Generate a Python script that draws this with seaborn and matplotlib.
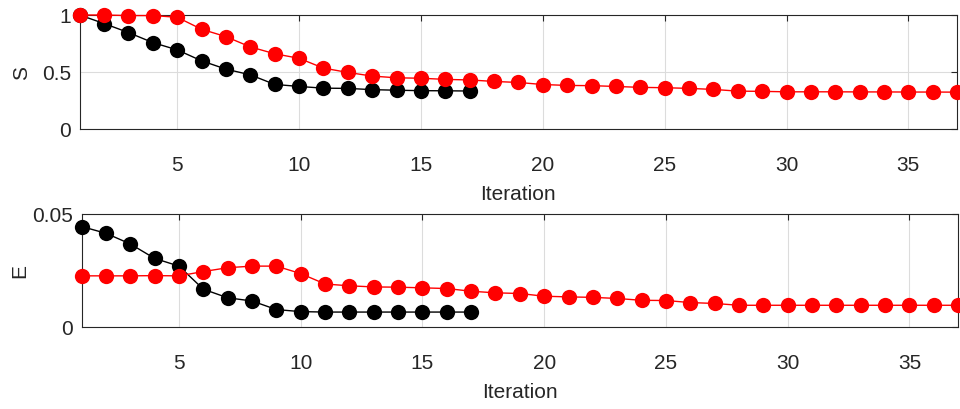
import matplotlib
matplotlib.use("Agg")
import matplotlib.pyplot as plt
import pandas as pd
import seaborn as sns

# iterations
iter_black = list(range(1, 18))
iter_red = list(range(1, 38))

# S values
s_black = [1.0, 0.925, 0.846, 0.758, 0.694, 0.598, 0.525, 0.475, 0.391, 0.373,
           0.358, 0.356, 0.345, 0.34, 0.336, 0.335, 0.333]
s_red = [1.0, 1.0, 0.995, 0.995, 0.98, 0.875, 0.81, 0.72, 0.66, 0.62,
         0.534, 0.496, 0.464, 0.449, 0.445, 0.435, 0.43, 0.417, 0.408, 0.39,
         0.382, 0.38, 0.373, 0.365, 0.362, 0.356, 0.347, 0.332, 0.33, 0.326,
         0.326, 0.326, 0.325, 0.325, 0.324, 0.324, 0.323]

# E values
e_black = [0.0444, 0.0414, 0.0367, 0.0303, 0.0269, 0.0167, 0.0129, 0.0115, 0.0077, 0.0068,
           0.0066, 0.0066, 0.0066, 0.0066, 0.0066, 0.0066, 0.0066]
e_red = [0.0226, 0.0226, 0.0226, 0.0227, 0.0226, 0.0245, 0.0262, 0.0269, 0.0269, 0.0236,
         0.019, 0.0182, 0.0177, 0.0176, 0.0173, 0.017, 0.0158, 0.0151, 0.0148, 0.0136,
         0.0133, 0.0131, 0.0126, 0.0118, 0.0117, 0.0108, 0.0104, 0.0096, 0.0096, 0.0096,
         0.0096, 0.0096, 0.0096, 0.0096, 0.0096, 0.0096, 0.0096]

frame = pd.concat([
    pd.DataFrame({"Iteration": iter_black, "S": s_black, "E": e_black, "run": "black"}),
    pd.DataFrame({"Iteration": iter_red, "S": s_red, "E": e_red, "run": "red"}),
])
palette = {"black": "black", "red": "#ff0000"}

sns.set_theme(style="whitegrid")
plt.rcParams["font.family"] = ["Liberation Sans Narrow", "Liberation Sans", "DejaVu Sans"]

fig = plt.figure(figsize=(9.6, 4.1), dpi=100)
ax_s = fig.add_axes([0.083, 0.683, 0.914, 0.278])
ax_e = fig.add_axes([0.085, 0.2, 0.913, 0.276])

for ax, col, ylim, yticks, yticklabels, label_x in [
    (ax_s, "S", (0, 1), [0, 0.5, 1], ["0", "0.5", "1"], -0.055),
    (ax_e, "E", (0, 0.05), [0, 0.05], ["0", "0.05"], -0.06),
]:
    sns.lineplot(frame, x="Iteration", y=col, hue="run", palette=palette, marker="o",
                 markersize=11, markeredgewidth=0, linewidth=1, legend=False, ax=ax,
                 clip_on=False, zorder=3)
    ax.set_xlim(1, 37)
    ax.set_ylim(*ylim)
    ax.set_xticks([5, 10, 15, 20, 25, 30, 35])
    ax.set_yticks(yticks)
    ax.set_yticklabels(yticklabels)
    ax.grid(True, color="#dcdcdc", linewidth=0.8)
    ax.set_facecolor("white")
    for spine in ax.spines.values():
        spine.set_color("#262626")
        spine.set_linewidth(0.8)
    ax.tick_params(direction="in", length=4, width=0.8, color="#262626",
                   top=True, right=True, labelsize=15, labelcolor="#262626")
    ax.tick_params(axis="x", pad=19)
    ax.tick_params(axis="y", pad=6)
    ax.set_xlabel("Iteration", fontsize=15, color="#262626", labelpad=7)
    ax.set_ylabel(col, fontsize=15, color="#262626")
    ax.yaxis.set_label_coords(label_x, 0.5)

fig.savefig("out.png", dpi=100, facecolor="white")
